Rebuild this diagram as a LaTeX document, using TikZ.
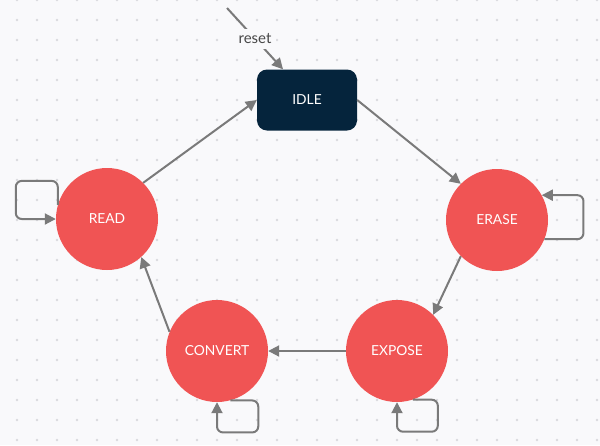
\documentclass[tikz,border=0pt]{standalone}
\usepackage{fontspec}
\setmainfont{Lato}
\usetikzlibrary{arrows.meta}
\definecolor{bgcol}{RGB}{249,249,251}
\definecolor{dotcol}{RGB}{218,218,222}
\definecolor{statecol}{RGB}{240,84,84}
\definecolor{idlecol}{RGB}{5,36,60}
\definecolor{edgecol}{RGB}{122,122,122}
\definecolor{labelcol}{RGB}{72,72,72}

\begin{document}
\begin{tikzpicture}[x=1pt,y=-1pt,
  state/.style={circle,fill=statecol,minimum size=102pt,inner sep=0pt,text=white,font=\fontsize{13.8}{16}\selectfont},
  idlebox/.style={rectangle,rounded corners=10pt,fill=idlecol,minimum width=100pt,minimum height=61pt,text=white,font=\fontsize{13.8}{16}\selectfont},
  edge/.style={draw=edgecol,line width=2pt,-{Triangle[length=11pt,width=11pt]}},
  loop/.style={edge,rounded corners=6pt}]
\fill[bgcol] (0,0) rectangle (600,445);
\useasboundingbox (0,0) rectangle (600,445);
\foreach \x in {17,37,...,597}
  \foreach \y in {0,20,...,440}
    \fill[dotcol] (\x,\y) circle (1.3pt);
\node[idlebox] (idle) at (307,100) {IDLE};
\node[state] (read) at (107,219) {READ};
\node[state] (erase) at (497,220) {ERASE};
\node[state] (expose) at (397,351) {EXPOSE};
\node[state] (convert) at (217,351) {CONVERT};
\coordinate (resetstart) at (227,8);
\draw[edge] (resetstart) -- node[fill=bgcol,inner sep=5pt,text=labelcol,font=\fontsize{15}{17}\selectfont]{reset} (idle.128);
\draw[edge] (read.45) -- (idle.west);
\draw[edge] (idle.east) -- (erase.135);
\draw[edge] (erase.225) -- (expose.45);
\draw[edge] (expose.west) -- (convert.east);
\draw[edge] (convert.158) -- (read.312);
\draw[loop] (read.164) |- ++(-42,-24) |- (read.west);
\draw[loop] (erase.338) -- ++(39,0) |- (erase.29);
\draw[loop] (convert.285) -| ++(28,32) -| (convert.south);
\draw[loop] (expose.288) -| ++(25,32) -| (expose.south);
\end{tikzpicture}
\end{document}
